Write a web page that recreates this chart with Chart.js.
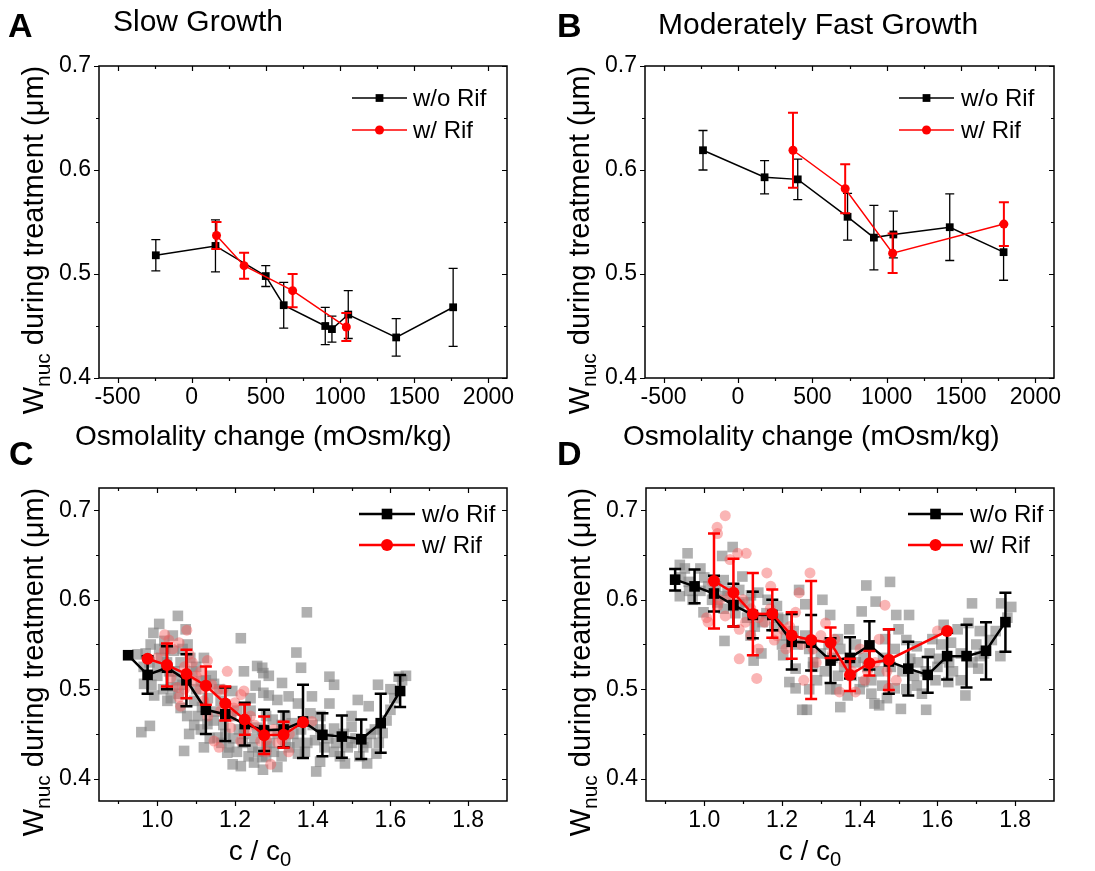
<!DOCTYPE html>
<html>
<head>
<meta charset="utf-8">
<script src="https://cdn.jsdelivr.net/npm/chart.js@4.4.0/dist/chart.umd.min.js"></script>
<style>
  body { margin: 0; background: #fff; }
  #fig { position: relative; width: 1095px; height: 871px; overflow: hidden; font-family: "Liberation Sans", Arial, sans-serif; color: #000; }
  canvas { position: absolute; }
  .txt { position: absolute; white-space: nowrap; }
  .letter { font-size: 34px; line-height: 34px; font-weight: bold; }
  .title { font-size: 30px; line-height: 30px; }
  .xlab { font-size: 28px; line-height: 28px; }
  .ytitle { font-size: 29px; line-height: 28px; width: 420px; text-align: center; transform: rotate(-90deg); }
  .xtitle { font-size: 28px; line-height: 28px; width: 300px; text-align: center; }
  sub { font-size: 0.72em; vertical-align: -0.32em; line-height: 0; }
</style>
</head>
<body>
<div id="fig">
  <canvas id="pA" width="547" height="440" style="left:0;top:0"></canvas>
  <canvas id="pB" width="548" height="440" style="left:547px;top:0"></canvas>
  <canvas id="pC" width="547" height="431" style="left:0;top:440px"></canvas>
  <canvas id="pD" width="548" height="431" style="left:547px;top:440px"></canvas>

  <div class="txt letter" style="left:8px;top:8px">A</div>
  <div class="txt letter" style="left:557px;top:8px">B</div>
  <div class="txt letter" style="left:9px;top:436px">C</div>
  <div class="txt letter" style="left:557px;top:436px">D</div>

  <div class="txt title" style="left:113px;top:6px">Slow Growth</div>
  <div class="txt title" style="left:658px;top:9px">Moderately Fast Growth</div>

  <div class="txt xlab" style="left:75px;top:422px">Osmolality change (mOsm/kg)</div>
  <div class="txt xlab" style="left:623px;top:422px">Osmolality change (mOsm/kg)</div>
  <div class="txt xtitle" style="left:110px;top:837px">c / c<sub>0</sub></div>
  <div class="txt xtitle" style="left:660px;top:837px">c / c<sub>0</sub></div>

  <div class="txt ytitle" style="left:-177px;top:226px">W<sub>nuc</sub> during treatment (μm)</div>
  <div class="txt ytitle" style="left:369px;top:226px">W<sub>nuc</sub> during treatment (μm)</div>
  <div class="txt ytitle" style="left:-177px;top:648px">W<sub>nuc</sub> during treatment (μm)</div>
  <div class="txt ytitle" style="left:370px;top:648px">W<sub>nuc</sub> during treatment (μm)</div>
</div>

<script>
const FONT = '"Liberation Sans", Arial, sans-serif';

// ---- axis ticks ----
const osmMajor = [-500, 0, 500, 1000, 1500, 2000];
const osmMinor = [-250, 250, 750, 1250, 1750];
const ratioMajor = [1.0, 1.2, 1.4, 1.6, 1.8];
const ratioMinor = [0.9, 1.1, 1.3, 1.5, 1.7];
const wMajor = [0.4, 0.5, 0.6, 0.7];
const wMinor = [0.45, 0.55, 0.65];

const seriesNames = ["w/o Rif", "w/ Rif"];

// ---- panel A: slow growth vs osmolality change ----
const aBlackX = [-242, 160, 499, 620, 900, 945, 1055, 1378, 1762];
const aBlackY = [0.518, 0.527, 0.498, 0.470, 0.450, 0.447, 0.461, 0.439, 0.468];
const aBlackErr = [0.015, 0.025, 0.010, 0.022, 0.018, 0.0125, 0.023, 0.018, 0.0375];
const aRedX = [167, 353, 680, 1042];
const aRedY = [0.537, 0.508, 0.484, 0.449];
const aRedErr = [0.013, 0.0125, 0.016, 0.0135];

// ---- panel B: moderately fast growth vs osmolality change ----
const bBlackX = [-235, 179, 402, 737, 914, 1045, 1424, 1786];
const bBlackY = [0.619, 0.593, 0.591, 0.555, 0.535, 0.538, 0.545, 0.521];
const bBlackErr = [0.019, 0.016, 0.0195, 0.0225, 0.031, 0.0225, 0.032, 0.027];
const bRedX = [370, 721, 1040, 1788];
const bRedY = [0.619, 0.582, 0.520, 0.548];
const bRedErr = [0.036, 0.0235, 0.019, 0.021];

// ---- panel C: slow growth vs c/c0 (binned means + single cells) ----
const cBlackX = [0.925, 0.975, 1.025, 1.075, 1.125, 1.175, 1.225, 1.275, 1.325, 1.375, 1.425, 1.475, 1.525, 1.575, 1.625];
const cBlackY = [0.538, 0.516, 0.524, 0.510, 0.477, 0.472, 0.461, 0.454, 0.455, 0.464, 0.449, 0.447, 0.444, 0.462, 0.498];
const cBlackErr = [0, 0.021, 0.024, 0.029, 0.027, 0.030, 0.024, 0.023, 0.020, 0.041, 0.024, 0.0235, 0.022, 0.033, 0.018];
const cRedX = [0.975, 1.025, 1.075, 1.125, 1.175, 1.225, 1.275, 1.325, 1.375];
const cRedY = [0.534, 0.527, 0.517, 0.504, 0.484, 0.466, 0.4485, 0.449, 0.463];
const cRedErr = [0, 0.024, 0.027, 0.0215, 0.019, 0.017, 0.021, 0.0145, 0];
const cCellsNoRif = [
  [1.053,0.582],[1.005,0.573],[1.073,0.567],[0.990,0.563],[0.983,0.550],[0.949,0.539],[1.215,0.557],[1.270,0.524],
  [1.223,0.520],[1.253,0.504],[1.287,0.515],[1.287,0.493],[0.959,0.452],[0.981,0.459],[1.082,0.450],[1.069,0.431],
  [1.120,0.435],[1.112,0.455],[1.180,0.429],[1.215,0.414],[1.249,0.418],[1.270,0.424],[0.992,0.493],[1.026,0.487],
  [1.060,0.479],[1.077,0.470],[1.039,0.502],[1.000,0.524],[1.112,0.509],[1.146,0.506],[1.163,0.487],[1.193,0.498],
  [1.206,0.476],[1.240,0.476],[1.257,0.457],[1.223,0.450],[1.155,0.446],[1.129,0.461],[1.095,0.487],[0.966,0.506],
  [1.043,0.543],[1.078,0.550],[1.018,0.554],[1.120,0.535],[1.385,0.586],[1.358,0.541],[1.370,0.524],[1.273,0.518],
  [1.257,0.526],[1.321,0.507],[1.273,0.496],[1.443,0.514],[1.455,0.505],[1.398,0.492],[1.443,0.484],[1.516,0.488],
  [1.544,0.481],[1.568,0.505],[1.600,0.477],[1.621,0.514],[1.362,0.484],[1.338,0.492],[1.309,0.488],[1.297,0.466],
  [1.346,0.462],[1.394,0.473],[1.406,0.443],[1.455,0.456],[1.500,0.458],[1.500,0.440],[1.455,0.430],[1.483,0.417],
  [1.540,0.417],[1.564,0.428],[1.419,0.419],[1.409,0.408],[1.309,0.413],[1.362,0.428],[1.386,0.440],[1.281,0.436],
  [1.580,0.451],[1.194,0.416],[1.272,0.410],[1.000,0.515],[1.010,0.535],[1.030,0.520],[1.050,0.510],[1.060,0.530],
  [1.090,0.520],[1.100,0.500],[1.130,0.490],[1.150,0.475],[1.170,0.460],[1.190,0.470],[1.210,0.455],[1.230,0.465],
  [1.250,0.445],[1.270,0.455],[1.290,0.440],[1.310,0.450],[1.330,0.440],[1.350,0.450],[1.370,0.455],[1.400,0.460],
  [1.420,0.455],[1.440,0.445],[1.460,0.440],[1.480,0.450],[1.510,0.445],[1.530,0.435],[1.550,0.450],[1.570,0.440],
  [1.590,0.465],[1.610,0.490],[1.630,0.510],[1.640,0.515],[0.980,0.530],[0.970,0.540],[1.020,0.545],[1.040,0.560],
  [1.065,0.545],[1.100,0.525],[1.140,0.515],[1.160,0.500],[0.965,0.525],[0.985,0.505],[1.005,0.545],[1.015,0.500],
  [1.025,0.530],[1.035,0.490],[1.045,0.520],[1.055,0.495],[1.065,0.505],[1.085,0.535],[1.095,0.460],[1.105,0.470],
  [1.115,0.480],[1.125,0.510],[1.135,0.445],[1.145,0.465],[1.165,0.440],[1.175,0.450],[1.185,0.435],[1.195,0.445],
  [1.205,0.430],[1.220,0.440],[1.235,0.425],[1.245,0.435],[1.260,0.430],[1.280,0.425],[1.300,0.430],[1.320,0.425],
  [1.340,0.435],[1.360,0.440],[1.380,0.430],[1.430,0.435],[1.470,0.425],[1.490,0.435],[1.520,0.425],[1.540,0.440],
  [1.560,0.455],[1.600,0.500],[1.500,0.470],[1.420,0.470],[1.330,0.470],[1.240,0.490],[1.280,0.470],[1.320,0.460]
];
const cCellsRif = [
  [1.019,0.561],[1.076,0.566],[1.056,0.552],[1.129,0.532],[1.180,0.520],[1.018,0.543],[1.082,0.539],[1.112,0.520],
  [1.056,0.491],[1.060,0.481],[1.052,0.502],[1.155,0.498],[1.215,0.494],[1.223,0.498],[1.146,0.442],[1.159,0.435],
  [1.215,0.442],[1.189,0.457],[1.292,0.416],[1.266,0.442],[1.000,0.535],[1.035,0.513],[1.095,0.509],[1.120,0.487],
  [1.163,0.476],[1.197,0.479],[1.338,0.430],[1.398,0.464],[1.321,0.443],[1.281,0.443],[1.040,0.545],[1.070,0.525],
  [1.100,0.515],[1.140,0.505],[1.200,0.485],[1.240,0.470],[1.300,0.455],[1.340,0.450],[1.030,0.555],[1.090,0.530],
  [1.110,0.500],[1.170,0.500],[1.190,0.470],[1.230,0.455],[1.250,0.460],[1.280,0.430],[1.310,0.440],[1.330,0.460],
  [1.070,0.500],[1.130,0.470]
];

// ---- panel D: moderately fast growth vs c/c0 ----
const dBlackX = [0.925, 0.975, 1.025, 1.075, 1.125, 1.175, 1.225, 1.275, 1.325, 1.375, 1.425, 1.475, 1.525, 1.575, 1.625, 1.675, 1.725, 1.775];
const dBlackY = [0.6225, 0.615, 0.607, 0.594, 0.583, 0.583, 0.553, 0.552, 0.532, 0.535, 0.549, 0.531, 0.523, 0.516, 0.537, 0.537, 0.543, 0.575];
const dBlackErr = [0.012, 0.019, 0.020, 0.024, 0.026, 0.017, 0.031, 0.031, 0.025, 0.023, 0.027, 0.036, 0.030, 0.020, 0.026, 0.035, 0.032, 0.033];
const dRedX = [1.025, 1.075, 1.125, 1.175, 1.225, 1.275, 1.325, 1.375, 1.425, 1.475, 1.625];
const dRedY = [0.621, 0.608, 0.584, 0.5845, 0.560, 0.555, 0.552, 0.516, 0.529, 0.533, 0.565];
const dRedErr = [0.053, 0.038, 0.046, 0.027, 0.026, 0.066, 0.017, 0.018, 0.0136, 0.034, 0];
const dCellsNoRif = [
  [0.957,0.652],[1.046,0.649],[1.073,0.659],[0.937,0.639],[0.990,0.635],[0.937,0.604],[0.961,0.610],[0.998,0.586],
  [1.050,0.622],[1.098,0.626],[1.054,0.604],[1.090,0.611],[1.052,0.554],[1.119,0.560],[1.147,0.540],[1.127,0.532],
  [1.139,0.608],[1.163,0.600],[1.187,0.593],[1.203,0.578],[1.244,0.611],[1.260,0.595],[1.203,0.538],[1.235,0.523],
  [1.235,0.501],[1.252,0.477],[1.219,0.508],[1.010,0.615],[1.034,0.597],[1.074,0.593],[1.106,0.597],[1.417,0.616],
  [1.478,0.620],[1.441,0.598],[1.405,0.587],[1.494,0.583],[1.527,0.583],[1.304,0.600],[1.324,0.583],[1.689,0.596],
  [1.373,0.567],[1.344,0.556],[1.466,0.556],[1.500,0.567],[1.547,0.548],[1.587,0.556],[1.616,0.572],[1.652,0.567],
  [1.680,0.574],[1.709,0.565],[1.635,0.552],[1.705,0.523],[1.709,0.537],[1.604,0.534],[1.595,0.510],[1.628,0.508],
  [1.672,0.493],[1.571,0.477],[1.506,0.478],[1.450,0.482],[1.438,0.484],[1.369,0.493],[1.324,0.500],[1.344,0.515],
  [1.409,0.508],[1.458,0.504],[1.490,0.501],[1.547,0.504],[1.530,0.534],[1.280,0.530],[1.264,0.477],[1.764,0.596],
  [1.790,0.592],[1.762,0.537],[0.940,0.625],[0.960,0.620],[0.990,0.610],[1.020,0.600],[1.050,0.590],[1.080,0.585],
  [1.110,0.580],[1.150,0.575],[1.180,0.570],[1.210,0.560],[1.240,0.550],[1.270,0.545],[1.300,0.540],[1.330,0.535],
  [1.360,0.525],[1.390,0.530],[1.420,0.525],[1.450,0.520],[1.480,0.525],[1.510,0.520],[1.540,0.515],[1.570,0.520],
  [1.600,0.525],[1.630,0.530],[1.660,0.540],[1.700,0.550],[1.740,0.555],[1.780,0.580],[1.290,0.510],[1.340,0.500],
  [1.400,0.500],[0.950,0.635],[0.970,0.600],[1.000,0.625],[1.030,0.615],[1.060,0.610],[1.090,0.595],[1.120,0.605],
  [1.130,0.570],[1.160,0.585],[1.190,0.580],[1.200,0.550],[1.230,0.565],[1.260,0.560],[1.280,0.525],[1.310,0.520],
  [1.320,0.550],[1.350,0.545],[1.380,0.515],[1.390,0.550],[1.410,0.535],[1.430,0.510],[1.460,0.535],[1.470,0.490],
  [1.490,0.545],[1.520,0.500],[1.550,0.530],[1.560,0.495],[1.580,0.540],[1.610,0.550],[1.640,0.520],[1.660,0.510],
  [1.690,0.530],[1.720,0.540],[1.750,0.565],[1.270,0.500],[1.350,0.480],[1.430,0.495],[1.520,0.555]
];
const dCellsRif = [
  [1.034,0.674],[1.066,0.645],[1.086,0.652],[1.108,0.652],[1.161,0.630],[1.272,0.630],[1.171,0.615],[1.244,0.608],
  [1.010,0.575],[1.006,0.580],[1.054,0.582],[1.090,0.567],[1.106,0.575],[1.155,0.575],[1.090,0.534],[1.135,0.512],
  [1.139,0.545],[1.187,0.560],[1.203,0.567],[1.235,0.586],[1.256,0.510],[1.066,0.604],[1.034,0.593],[1.054,0.694],
  [1.033,0.681],[1.465,0.594],[1.312,0.574],[1.450,0.556],[1.600,0.565],[1.348,0.497],[1.389,0.497],[1.413,0.510],
  [1.494,0.510],[1.474,0.501],[1.336,0.556],[1.288,0.530],[1.401,0.545],[1.020,0.620],[1.080,0.600],[1.120,0.590],
  [1.170,0.590],[1.220,0.570],[1.300,0.560],[1.360,0.530],[1.440,0.530],[1.040,0.600],[1.100,0.600],[1.140,0.580],
  [1.180,0.555],[1.210,0.545],[1.250,0.550],[1.280,0.545],[1.330,0.540],[1.380,0.520],[1.420,0.520],[1.470,0.520],
  [1.120,0.560]
];

// error bars + frame + mirrored ticks + line/marker legend
const decor = {
  id: "decor",
  beforeDatasetDraw(chart, args) {
    const ds = chart.data.datasets[args.index];
    if (!ds.errors) return;
    const ctx = chart.ctx;
    const ys = chart.scales.y;
    ctx.save();
    ctx.strokeStyle = ds.borderColor;
    ctx.lineWidth = ds.errWidth;
    args.meta.data.forEach((pt, i) => {
      const e = ds.errors[i];
      if (!e) return;
      const v = ds.data[i].y;
      const top = ys.getPixelForValue(v + e);
      const bot = ys.getPixelForValue(v - e);
      const c = ds.capHalf;
      ctx.beginPath();
      ctx.moveTo(pt.x, top); ctx.lineTo(pt.x, bot);
      ctx.moveTo(pt.x - c, top); ctx.lineTo(pt.x + c, top);
      ctx.moveTo(pt.x - c, bot); ctx.lineTo(pt.x + c, bot);
      ctx.stroke();
    });
    ctx.restore();
  },
  afterDraw(chart, args, o) {
    const ctx = chart.ctx;
    const a = chart.chartArea;
    const xs = chart.scales.x, ys = chart.scales.y;
    ctx.save();
    ctx.strokeStyle = "#000";
    ctx.lineWidth = 1.5;
    ctx.strokeRect(a.left, a.top, a.right - a.left, a.bottom - a.top);
    ctx.lineWidth = 1.2;
    ctx.beginPath();
    const xTicks = (vals, len) => vals.forEach(v => {
      const p = Math.round(xs.getPixelForValue(v)) + 0.5;
      ctx.moveTo(p, a.bottom); ctx.lineTo(p, a.bottom + len);
      ctx.moveTo(p, a.top); ctx.lineTo(p, a.top + len);
    });
    const yTicks = (vals, len) => vals.forEach(v => {
      const p = Math.round(ys.getPixelForValue(v)) + 0.5;
      ctx.moveTo(a.left - len, p); ctx.lineTo(a.left, p);
      ctx.moveTo(a.right - len, p); ctx.lineTo(a.right, p);
    });
    xTicks(o.xMajor, 5); xTicks(o.xMinor, 3);
    yTicks(o.yMajor, 5); yTicks(o.yMinor, 3);
    ctx.stroke();

    // legend, in the order of seriesNames
    const L = o.legend;
    const entries = chart.data.datasets.filter(d => d.legendLabel)
      .sort((p, q) => seriesNames.indexOf(p.legendLabel) - seriesNames.indexOf(q.legendLabel));
    entries.forEach((d, i) => {
      const y = a.top + L.rows[i];
      const x1 = a.right - L.x1, x2 = a.right - L.x2;
      ctx.strokeStyle = d.borderColor;
      ctx.lineWidth = d.borderWidth;
      ctx.beginPath(); ctx.moveTo(x1, y); ctx.lineTo(x2, y); ctx.stroke();
      ctx.fillStyle = d.backgroundColor;
      Chart.helpers.drawPoint(ctx, { pointStyle: d.pointStyle, radius: d.pointRadius, borderWidth: 0, rotation: 0 }, (x1 + x2) / 2, y);
      ctx.fillStyle = "#000";
      ctx.font = "24px " + FONT;
      ctx.textBaseline = "middle";
      ctx.textAlign = "left";
      ctx.fillText(d.legendLabel, a.right - L.tx, y + 1);
    });
    ctx.restore();
  }
};

function axis(min, max, ticks, digits, isX) {
  return {
    type: "linear",
    min: min,
    max: max,
    afterBuildTicks: s => { s.ticks = ticks.map(v => ({ value: v })); },
    afterFit: s => { if (isX) s.height = 30; else s.width = 50; },
    grid: { display: false, drawTicks: false },
    border: { display: false },
    ticks: {
      color: "#000",
      font: { family: FONT, size: 23 },
      padding: isX ? 6 : 8,
      maxRotation: 0,
      autoSkip: false,
      callback: v => v.toFixed(digits)
    }
  };
}

function pts(xs, ys) {
  return xs.map((x, i) => ({ x: x, y: ys[i] }));
}

function cloud(list) {
  return list.map(p => ({ x: p[0], y: p[1] }));
}

function makePanel(id, p) {
  const big = p.big;
  const datasets = [
    {
      data: pts(p.redX, p.redY), errors: p.redErr, legendLabel: seriesNames[1],
      showLine: true, borderColor: "#ff0000", backgroundColor: "#ff0000",
      borderWidth: big ? 2.5 : 1.5, pointStyle: "circle", pointRadius: big ? 6 : 4.5,
      pointBorderWidth: 0, errWidth: big ? 2.5 : 2, capHalf: big ? 6 : 5, order: 0
    },
    {
      data: pts(p.blackX, p.blackY), errors: p.blackErr, legendLabel: seriesNames[0],
      showLine: true, borderColor: "#000000", backgroundColor: "#000000",
      borderWidth: big ? 2.5 : 1.5, pointStyle: "rect", pointRadius: big ? 7.5 : 5.5,
      pointBorderWidth: 0, errWidth: big ? 2.5 : 1.3, capHalf: big ? 6 : 4.5, order: 1
    }
  ];
  if (p.cellsRif) {
    datasets.push({
      data: cloud(p.cellsRif), backgroundColor: "rgba(245, 90, 90, 0.45)", borderWidth: 0,
      pointStyle: "circle", pointRadius: 5.5, pointBorderWidth: 0, order: 2
    });
    datasets.push({
      data: cloud(p.cellsNoRif), backgroundColor: "rgba(128, 128, 128, 0.62)", borderWidth: 0,
      pointStyle: "rect", pointRadius: 7.5, pointBorderWidth: 0, order: 3
    });
  }
  return new Chart(document.getElementById(id), {
    type: "scatter",
    data: { datasets: datasets },
    options: {
      responsive: false,
      animation: false,
      devicePixelRatio: 1,
      layout: { padding: p.pad },
      scales: {
        x: axis(p.xMin, p.xMax, p.xMajor, p.xDigits, true),
        y: axis(p.yMin, p.yMax, wMajor, 1, false)
      },
      plugins: {
        legend: { display: false },
        tooltip: { enabled: false },
        decor: { xMajor: p.xMajor, xMinor: p.xMinor, yMajor: wMajor, yMinor: wMinor, legend: p.legend }
      }
    },
    plugins: [decor]
  });
}

makePanel("pA", {
  blackX: aBlackX, blackY: aBlackY, blackErr: aBlackErr, redX: aRedX, redY: aRedY, redErr: aRedErr,
  xMin: -625, xMax: 2125, xMajor: osmMajor, xMinor: osmMinor, xDigits: 0, yMin: 0.4, yMax: 0.7,
  pad: { left: 49, top: 66, right: 40, bottom: 32 },
  legend: { x1: 155, x2: 100, tx: 94, rows: [32, 64] }
});
makePanel("pB", {
  blackX: bBlackX, blackY: bBlackY, blackErr: bBlackErr, redX: bRedX, redY: bRedY, redErr: bRedErr,
  xMin: -625, xMax: 2125, xMajor: osmMajor, xMinor: osmMinor, xDigits: 0, yMin: 0.4, yMax: 0.7,
  pad: { left: 48, top: 66, right: 41, bottom: 32 },
  legend: { x1: 155, x2: 100, tx: 93, rows: [32, 64] }
});
makePanel("pC", {
  big: true,
  blackX: cBlackX, blackY: cBlackY, blackErr: cBlackErr, redX: cRedX, redY: cRedY, redErr: cRedErr,
  cellsNoRif: cCellsNoRif, cellsRif: cCellsRif,
  xMin: 0.85, xMax: 1.9, xMajor: ratioMajor, xMinor: ratioMinor, xDigits: 1, yMin: 0.375, yMax: 0.725,
  pad: { left: 49, top: 48, right: 40, bottom: 40 },
  legend: { x1: 148, x2: 92, tx: 85, rows: [26, 57] }
});
makePanel("pD", {
  big: true,
  blackX: dBlackX, blackY: dBlackY, blackErr: dBlackErr, redX: dRedX, redY: dRedY, redErr: dRedErr,
  cellsNoRif: dCellsNoRif, cellsRif: dCellsRif,
  xMin: 0.85, xMax: 1.9, xMajor: ratioMajor, xMinor: ratioMinor, xDigits: 1, yMin: 0.375, yMax: 0.725,
  pad: { left: 49, top: 48, right: 41, bottom: 40 },
  legend: { x1: 146, x2: 91, tx: 84, rows: [26, 57] }
});
</script>
</body>
</html>
